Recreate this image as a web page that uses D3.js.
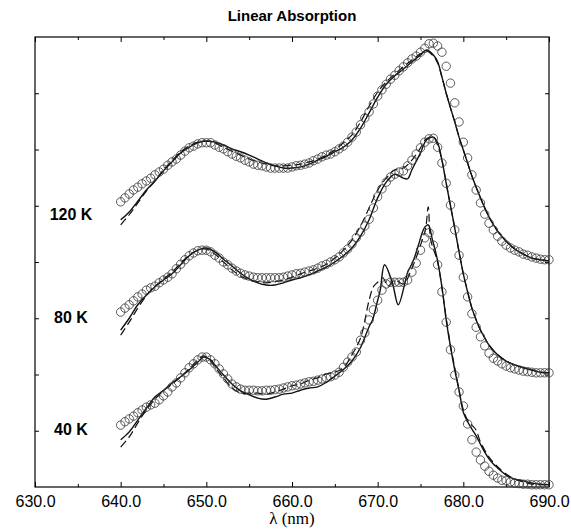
<!DOCTYPE html>
<html>
<meta charset="utf-8">
<title>Linear Absorption</title>
<style>
body { margin: 0; background: #fff; }
text { font-family: "Liberation Sans", Arial, sans-serif; }
.title { font-size: 15px; font-weight: bold; }
.temp { font-size: 16px; font-weight: bold; }
.xlab { font-family: "Liberation Serif", "Times New Roman", serif; font-size: 17px; }
.tick text { font-size: 16px; font-family: "Liberation Sans", Arial, sans-serif; fill: #000; }
.axis path { display: none; }
.axis line { stroke: #000; stroke-width: 1; }
</style>
<body>
<div id="chart"></div>
<script src="https://cdnjs.cloudflare.com/ajax/libs/d3/7.8.5/d3.min.js"></script>
<script>
// wavelength grid of the measured points (nm)
var wl = d3.range(640, 690.25, 0.5);

// measured absorption (circles), offset spectra, arbitrary units
var meas120 = [
  5.07, 5.14, 5.21, 5.28, 5.33, 5.39, 5.44, 5.49, 5.55, 5.60,
  5.65, 5.72, 5.78, 5.83, 5.90, 5.97, 6.03, 6.06, 6.10, 6.12,
  6.12, 6.12, 6.08, 6.04, 6.01, 5.96, 5.92, 5.88, 5.85, 5.81,
  5.78, 5.74, 5.72, 5.71, 5.69, 5.67, 5.67, 5.67, 5.67, 5.67,
  5.69, 5.71, 5.72, 5.74, 5.76, 5.80, 5.83, 5.87, 5.90, 5.92,
  5.96, 6.01, 6.06, 6.13, 6.22, 6.31, 6.44, 6.56, 6.67, 6.81,
  6.95, 7.06, 7.16, 7.25, 7.32, 7.40, 7.47, 7.54, 7.61, 7.66,
  7.73, 7.80, 7.88, 7.89, 7.84, 7.73, 7.48, 7.18, 6.83, 6.49,
  6.13, 5.85, 5.55, 5.28, 5.05, 4.85, 4.69, 4.57, 4.46, 4.37,
  4.30, 4.25, 4.21, 4.18, 4.14, 4.12, 4.09, 4.07, 4.05, 4.04,
  4.04];
var meas80 = [
  3.11, 3.18, 3.24, 3.31, 3.38, 3.43, 3.50, 3.54, 3.57, 3.63,
  3.68, 3.73, 3.79, 3.88, 3.96, 4.04, 4.11, 4.16, 4.20, 4.21,
  4.21, 4.18, 4.12, 4.07, 4.00, 3.95, 3.89, 3.84, 3.80, 3.77,
  3.75, 3.73, 3.72, 3.72, 3.72, 3.72, 3.72, 3.72, 3.73, 3.75,
  3.77, 3.79, 3.80, 3.82, 3.84, 3.86, 3.89, 3.93, 3.96, 4.00,
  4.04, 4.09, 4.16, 4.23, 4.32, 4.43, 4.53, 4.64, 4.76, 4.96,
  5.16, 5.30, 5.42, 5.51, 5.56, 5.60, 5.62, 5.71, 5.81, 5.92,
  6.03, 6.13, 6.19, 6.20, 6.04, 5.76, 5.40, 5.01, 4.57, 4.12,
  3.73, 3.38, 3.08, 2.84, 2.67, 2.51, 2.38, 2.29, 2.24, 2.19,
  2.15, 2.12, 2.10, 2.08, 2.06, 2.05, 2.04, 2.03, 2.03, 2.03,
  2.03];
var meas40 = [
  1.10, 1.16, 1.21, 1.26, 1.32, 1.37, 1.42, 1.46, 1.49, 1.55,
  1.62, 1.69, 1.78, 1.85, 1.94, 2.03, 2.12, 2.19, 2.26, 2.31,
  2.31, 2.26, 2.19, 2.10, 2.01, 1.92, 1.83, 1.78, 1.74, 1.72,
  1.72, 1.72, 1.71, 1.71, 1.72, 1.72, 1.73, 1.74, 1.76, 1.78,
  1.80, 1.81, 1.83, 1.85, 1.87, 1.88, 1.90, 1.92, 1.94, 1.96,
  1.99, 2.04, 2.13, 2.22, 2.31, 2.40, 2.61, 2.74, 2.97, 3.15,
  3.32, 3.50, 3.61, 3.64, 3.64, 3.64, 3.64, 3.68, 3.82, 3.98,
  4.21, 4.43, 4.52, 4.30, 3.95, 3.47, 2.93, 2.44, 1.99, 1.69,
  1.44, 1.12, 0.84, 0.62, 0.48, 0.37, 0.28, 0.21, 0.16, 0.12,
  0.11, 0.09, 0.07, 0.06, 0.05, 0.05, 0.04, 0.04, 0.04, 0.04,
  0.04];

// calculated spectra: [wavelength, value]
var solid120 = [[640,4.75],[641,4.89],[642,5.08],[643,5.28],[644,5.44],[645,5.62],[646,5.78],[647,5.94],
  [648,6.04],[649,6.12],[650,6.15],[651,6.13],[652,6.08],[653,6.01],[654,5.96],[655,5.90],[656,5.83],
  [657,5.76],[658,5.71],[659,5.67],[660,5.67],[661,5.69],[662,5.74],[663,5.81],[664,5.88],[665,5.96],
  [666,6.04],[667,6.17],[668,6.38],[669,6.65],[670,6.93],[671,7.16],[672,7.31],[673,7.43],[674,7.56],
  [675,7.68],[675.7,7.77],[676.5,7.68],[677,7.56],[677.5,7.29],[678,7.00],[678.5,6.74],[679,6.49],
  [679.5,6.22],[680,5.99],[680.5,5.76],[681,5.53],[682,5.14],[683,4.80],[684,4.55],[685,4.37],
  [686,4.23],[687,4.14],[688,4.07],[689,4.04],[690,4.02]];
var dash120 = [[640,4.66],[641,4.84],[642,5.05],[643,5.26],[644,5.44],[645,5.64],[646,5.80],[647,5.96],
  [648,6.06],[649,6.13],[650,6.15],[651,6.12],[652,6.04],[653,5.97],[654,5.90],[655,5.83],[656,5.78],
  [657,5.74],[658,5.71],[659,5.71],[660,5.72],[661,5.74],[662,5.78],[663,5.83],[664,5.90],[665,5.99],
  [666,6.12],[667,6.26],[668,6.49],[669,6.77],[670,7.02],[671,7.20],[672,7.34],[673,7.47],[674,7.59],
  [675,7.70],[675.7,7.75],[676.5,7.66],[677,7.54],[677.5,7.29],[678,7.00],[678.5,6.74],[679,6.49],
  [679.5,6.22],[680,5.99],[680.5,5.76],[681,5.53],[682,5.14],[683,4.80],[684,4.55],[685,4.37],
  [686,4.23],[687,4.14],[688,4.07],[689,4.04],[690,4.02]];
var solid80 = [[640,2.79],[641,3.00],[642,3.24],[643,3.41],[644,3.56],[645,3.68],[646,3.79],[647,3.95],
  [648,4.11],[649,4.21],[650,4.25],[651,4.18],[652,4.05],[653,3.93],[654,3.80],[655,3.70],[656,3.63],
  [657,3.59],[658,3.59],[659,3.63],[660,3.68],[661,3.72],[662,3.77],[663,3.84],[664,3.91],[665,4.00],
  [666,4.11],[667,4.25],[668,4.46],[669,4.75],[670,5.14],[671,5.42],[672,5.56],[673,5.49],[673.5,5.48],
  [674,5.64],[675,5.94],[675.7,6.17],[676.5,6.22],[677,6.12],[677.5,5.81],[678,5.40],[678.5,5.00],
  [679,4.60],[679.5,4.18],[680,3.79],[680.5,3.47],[681,3.18],[681.5,2.97],[682,2.79],[682.5,2.65],
  [683,2.52],[684,2.35],[685,2.24],[686,2.17],[687,2.12],[688,2.08],[689,2.04],[690,2.03]];
var dash80 = [[640,2.70],[641,2.93],[642,3.18],[643,3.40],[644,3.56],[645,3.70],[646,3.82],[647,3.98],
  [648,4.12],[649,4.21],[650,4.23],[651,4.14],[652,4.00],[653,3.86],[654,3.75],[655,3.68],[656,3.65],
  [657,3.63],[658,3.65],[659,3.68],[660,3.73],[661,3.79],[662,3.84],[663,3.89],[664,3.96],[665,4.07],
  [666,4.21],[667,4.39],[668,4.64],[669,4.96],[670,5.28],[671,5.49],[672,5.64],[673,5.67],[674,5.81],
  [675,6.03],[675.7,6.19],[676.5,6.22],[677,6.08],[677.5,5.81],[678,5.40],[678.5,5.00],
  [679,4.60],[679.5,4.18],[680,3.79],[680.5,3.47],[681,3.18],[681.5,2.97],[682,2.79],[682.5,2.65],
  [683,2.52],[684,2.35],[685,2.24],[686,2.17],[687,2.12],[688,2.08],[689,2.04],[690,2.03]];
var solid40 = [[640,0.84],[641,0.98],[642,1.19],[643,1.40],[644,1.60],[645,1.72],[646,1.85],[647,1.96],
  [648,2.08],[649,2.22],[649.7,2.31],[650.5,2.26],[651,2.17],[652,1.99],[653,1.83],[654,1.71],[655,1.64],
  [656,1.58],[657,1.56],[658,1.60],[659,1.65],[660,1.67],[661,1.72],[662,1.76],[663,1.78],[664,1.86],
  [665,1.97],[666,2.09],[667,2.24],[668,2.48],[669,2.85],[669.4,2.97],[670,3.32],[670.3,3.50],
  [670.8,3.95],[671.7,3.64],[672.4,3.24],[673.2,3.64],[673.5,3.82],[674.1,4.00],[674.7,4.27],
  [675.2,4.52],[675.5,4.62],[675.9,4.66],[676.4,4.39],[676.9,4.09],[677.5,3.56],[678,2.97],
  [678.5,2.49],[679,2.08],[679.5,1.72],[680,1.33],[680.5,1.16],[681,1.03],[681.5,0.91],[682,0.76],
  [682.5,0.62],[683,0.50],[683.5,0.41],[684,0.34],[684.5,0.27],[685,0.21],[686,0.14],[687,0.11],
  [688,0.07],[689,0.05],[690,0.04]];
var dash40 = [[640,0.71],[641,0.89],[642,1.14],[643,1.37],[644,1.56],[645,1.71],[646,1.83],[647,1.96],
  [648,2.10],[649,2.26],[649.7,2.33],[650.5,2.24],[651,2.13],[652,1.94],[653,1.76],[654,1.67],[655,1.67],
  [656,1.67],[657,1.65],[658,1.69],[659,1.74],[660,1.80],[661,1.83],[662,1.90],[663,1.94],[664,2.01],
  [665,2.04],[666,2.12],[667,2.35],[668,2.65],[669,3.32],[669.5,3.56],[670,3.64],[670.6,3.72],
  [671.2,3.57],[672,3.68],[673,3.61],[674,3.89],[675,4.30],[675.6,4.60],[675.9,4.98],[676.2,4.39],
  [677,4.00],[677.5,3.54],[678,3.00],[678.5,2.52],[679,2.12],[679.5,1.72],[680,1.37],[680.5,1.19],
  [681,1.10],[681.5,1.01],[682,0.80],[683,0.53],[684,0.36],[685,0.23],[686,0.14],[687,0.09],
  [688,0.05],[690,0.04]];

var temps = ["120 K", "80 K", "40 K"];
var tempLabelAt = [4.75, 2.92, 0.92];
var xTicks = [630, 640, 650, 660, 670, 680, 690];
var xMinor = [635, 645, 655, 665, 675, 685];
var yTicks = [1, 2, 3, 4, 5, 6, 7];

var W = 571, H = 530;
var margin = {top: 37, right: 22, bottom: 43, left: 35};
var width = W - margin.left - margin.right,
    height = H - margin.top - margin.bottom;

var svg = d3.select("#chart").append("svg")
    .attr("width", W)
    .attr("height", H);
var g = svg.append("g")
    .attr("transform", "translate(" + margin.left + "," + margin.top + ")");

var x = d3.scaleLinear().domain([630, 690]).range([0, width]);
var y = d3.scaleLinear().domain([0, 8]).range([height, 0]);

// ticks, all pointing inward
g.append("g").attr("class", "axis")
    .attr("transform", "translate(0," + height + ")")
    .call(d3.axisBottom(x).tickValues(xTicks).tickSize(-5).tickPadding(9).tickFormat(d3.format(".1f")));
g.append("g").attr("class", "axis")
    .attr("transform", "translate(0," + height + ")")
    .call(d3.axisBottom(x).tickValues(xMinor).tickSize(-3).tickFormat(""));
g.append("g").attr("class", "axis")
    .call(d3.axisTop(x).tickValues(xTicks).tickSize(-5).tickFormat(""));
g.append("g").attr("class", "axis")
    .call(d3.axisTop(x).tickValues(xMinor).tickSize(-3).tickFormat(""));
g.append("g").attr("class", "axis")
    .call(d3.axisLeft(y).tickValues(yTicks).tickSize(-4).tickFormat(""));
g.append("g").attr("class", "axis")
    .attr("transform", "translate(" + width + ",0)")
    .call(d3.axisRight(y).tickValues(yTicks).tickSize(-4).tickFormat(""));

g.append("rect")
    .attr("width", width)
    .attr("height", height)
    .attr("fill", "none")
    .attr("stroke", "#000")
    .attr("stroke-width", 1.2);

var line = d3.line()
    .x(function(d) { return x(d[0]); })
    .y(function(d) { return y(d[1]); })
    .curve(d3.curveCatmullRom.alpha(0.5));

var solids = [solid120, solid80, solid40];
var dashes = [dash120, dash80, dash40];
var meas = [meas120, meas80, meas40];

dashes.forEach(function(s) {
  g.append("path").datum(s)
    .attr("d", line)
    .attr("fill", "none")
    .attr("stroke", "#111")
    .attr("stroke-width", 1.2)
    .attr("stroke-dasharray", "8,4");
});
solids.forEach(function(s) {
  g.append("path").datum(s)
    .attr("d", line)
    .attr("fill", "none")
    .attr("stroke", "#111")
    .attr("stroke-width", 1.4);
});
meas.forEach(function(m) {
  g.append("g").selectAll("circle")
    .data(m)
    .enter().append("circle")
    .attr("cx", function(d, i) { return x(wl[i]); })
    .attr("cy", function(d) { return y(d); })
    .attr("r", 4.2)
    .attr("fill", "none")
    .attr("stroke", "#333")
    .attr("stroke-width", 0.8);
});

g.selectAll(".temp")
    .data(temps)
    .enter().append("text")
    .attr("class", "temp")
    .attr("x", 36)
    .attr("y", function(d, i) { return y(tempLabelAt[i]); })
    .attr("text-anchor", "middle")
    .text(function(d) { return d; });

svg.append("text")
    .attr("class", "title")
    .attr("x", margin.left + width / 2)
    .attr("y", 21)
    .attr("text-anchor", "middle")
    .text("Linear Absorption");

svg.append("text")
    .attr("class", "xlab")
    .attr("x", margin.left + width / 2)
    .attr("y", 524)
    .attr("text-anchor", "middle")
    .text("λ (nm)");
</script>
</body>
</html>
